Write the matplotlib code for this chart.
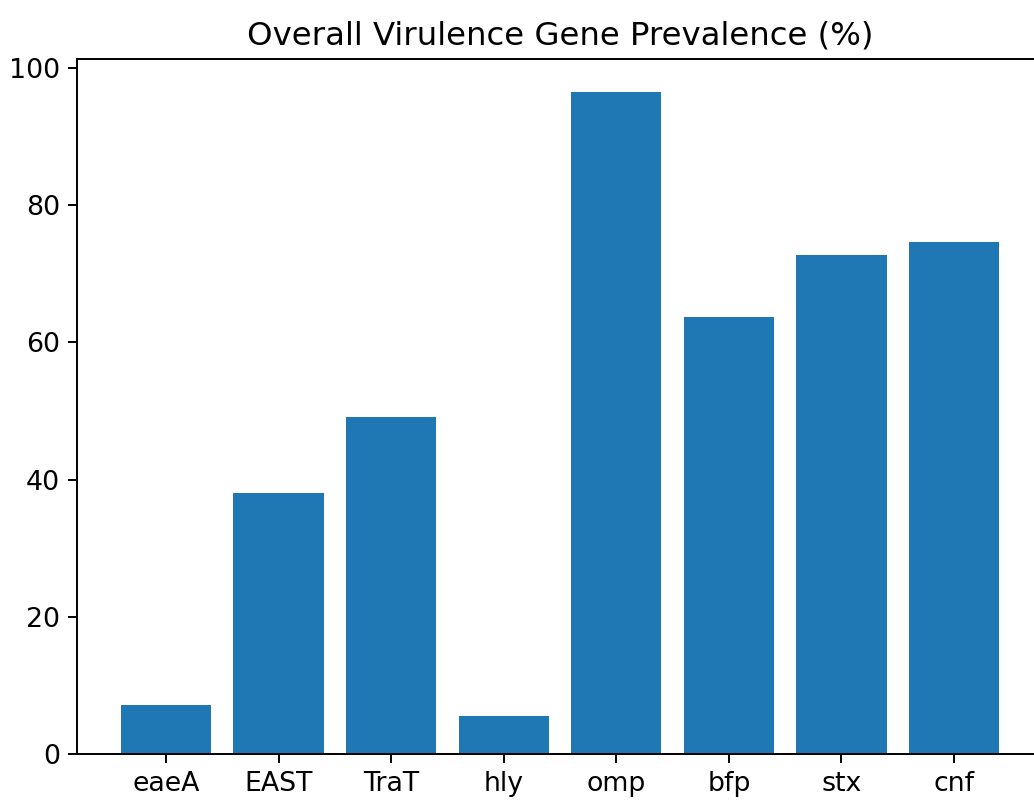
import matplotlib
matplotlib.use("Agg")
import matplotlib.pyplot as plt

genes = ["eaeA", "EAST", "TraT", "hly", "omp", "bfp", "stx", "cnf"]
prevalence = [7.1, 38.1, 49.1, 5.5, 96.5, 63.7, 72.7, 74.6]

plt.rcParams["font.size"] = 11
dpi = 175
fig = plt.figure(figsize=(1034 / dpi, 800 / dpi), dpi=dpi)
left = 77 / 1034
right = 1043 / 1034
bottom = (800 - 754) / 800
top = (800 - 59) / 800
ax = fig.add_axes([left, bottom, right - left, top - bottom])
ax.bar(genes, prevalence, color="#1f77b4")
ax.set_title("Overall Virulence Gene Prevalence (%)", fontsize=13.3)
fig.savefig("out.png", dpi=dpi)
